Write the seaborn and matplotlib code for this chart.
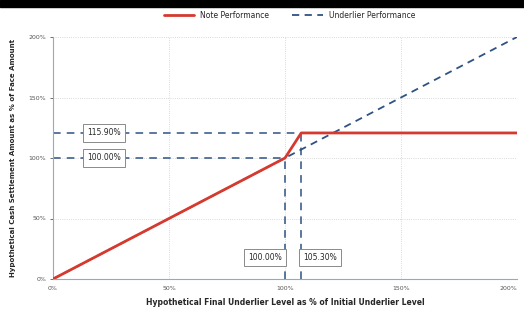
import pandas as pd
import seaborn as sns
import matplotlib.pyplot as plt
from matplotlib.patches import Rectangle
from matplotlib.ticker import PercentFormatter

# Values
note_x = [0, 100, 107, 200]
note_y = [0, 100, 120.7, 120.7]
under_x = [0, 200]
under_y = [0, 200]
knee_x = [100, 107]
knee_y = [100, 120.7]
y_labels = ["100.00%", "115.90%"]
x_labels = ["100.00%", "105.30%"]
ticks = [0, 50, 100, 150, 200]

RED = "#d63a2f"
BLUE = "#2f5283"

sns.set_theme(style="white")
plt.rcParams["font.family"] = ["DejaVu Sans"]

fig = plt.figure(figsize=(5.24, 3.09), dpi=100)
ax = fig.add_axes([53 / 524, 30 / 309, 464 / 524, 242 / 309])

# black strip along the top edge
fig.patches.append(Rectangle((0, 1 - 7 / 309), 1, 7 / 309, transform=fig.transFigure,
                             color="black", zorder=0))

note = pd.DataFrame({"x": note_x, "y": note_y})
under = pd.DataFrame({"x": under_x, "y": under_y})

sns.lineplot(data=under, x="x", y="y", ax=ax, color=BLUE, lw=1.3, linestyle=(0, (4, 3)),
             label="Underlier Performance", zorder=3)
sns.lineplot(data=note, x="x", y="y", ax=ax, color=RED, lw=2.0,
             label="Note Performance", zorder=4)

# guide lines to the axes
for xv, yv in zip(knee_x, knee_y):
    ax.plot([0, xv], [yv, yv], color=BLUE, lw=1.1, linestyle=(0, (5, 4)), zorder=2)
    ax.plot([xv, xv], [0, yv], color=BLUE, lw=1.1, linestyle=(0, (5, 4)), zorder=2)

box = dict(boxstyle="square,pad=0.55", fc="white", ec="#8a8a8a", lw=0.7)
ax.text(22, knee_y[0], y_labels[0], fontsize=5.5, ha="center", va="center", bbox=box, zorder=5)
ax.text(22, knee_y[1], y_labels[1], fontsize=5.5, ha="center", va="center", bbox=box, zorder=5)
ax.text(91.5, 18, x_labels[0], fontsize=5.5, ha="center", va="center", bbox=box, zorder=5)
ax.text(115, 18, x_labels[1], fontsize=5.5, ha="center", va="center", bbox=box, zorder=5)

ax.set_xlim(0, 200)
ax.set_ylim(0, 200)
ax.set_xticks(ticks)
ax.set_yticks(ticks)
ax.xaxis.set_major_formatter(PercentFormatter(decimals=0))
ax.yaxis.set_major_formatter(PercentFormatter(decimals=0))
ax.tick_params(axis="both", labelsize=4.5, colors="#555555", length=2, width=0.6,
               left=True, bottom=False, pad=3)
ax.get_xticklabels()[-1].set_horizontalalignment("right")
ax.grid(True, color="#cccccc", lw=0.6, linestyle=":")
for side in ["top", "right"]:
    ax.spines[side].set_visible(False)
for side in ["left", "bottom"]:
    ax.spines[side].set_color("#9aa8b8")
    ax.spines[side].set_linewidth(0.8)

ax.set_xlabel("Hypothetical Final Underlier Level as % of Initial Underlier Level",
              fontsize=5.5, fontweight="bold", labelpad=5)
ax.set_ylabel("Hypothetical Cash Settlement Amount as % of Face Amount",
              fontsize=5, fontweight="bold", labelpad=9)

handles, labels = ax.get_legend_handles_labels()
ax.legend(handles[::-1], labels[::-1], loc="center", bbox_to_anchor=(0.51, 1.09),
          ncol=2, frameon=False, fontsize=5.5, handlelength=4, columnspacing=3)

fig.savefig("out.png", dpi=100)
